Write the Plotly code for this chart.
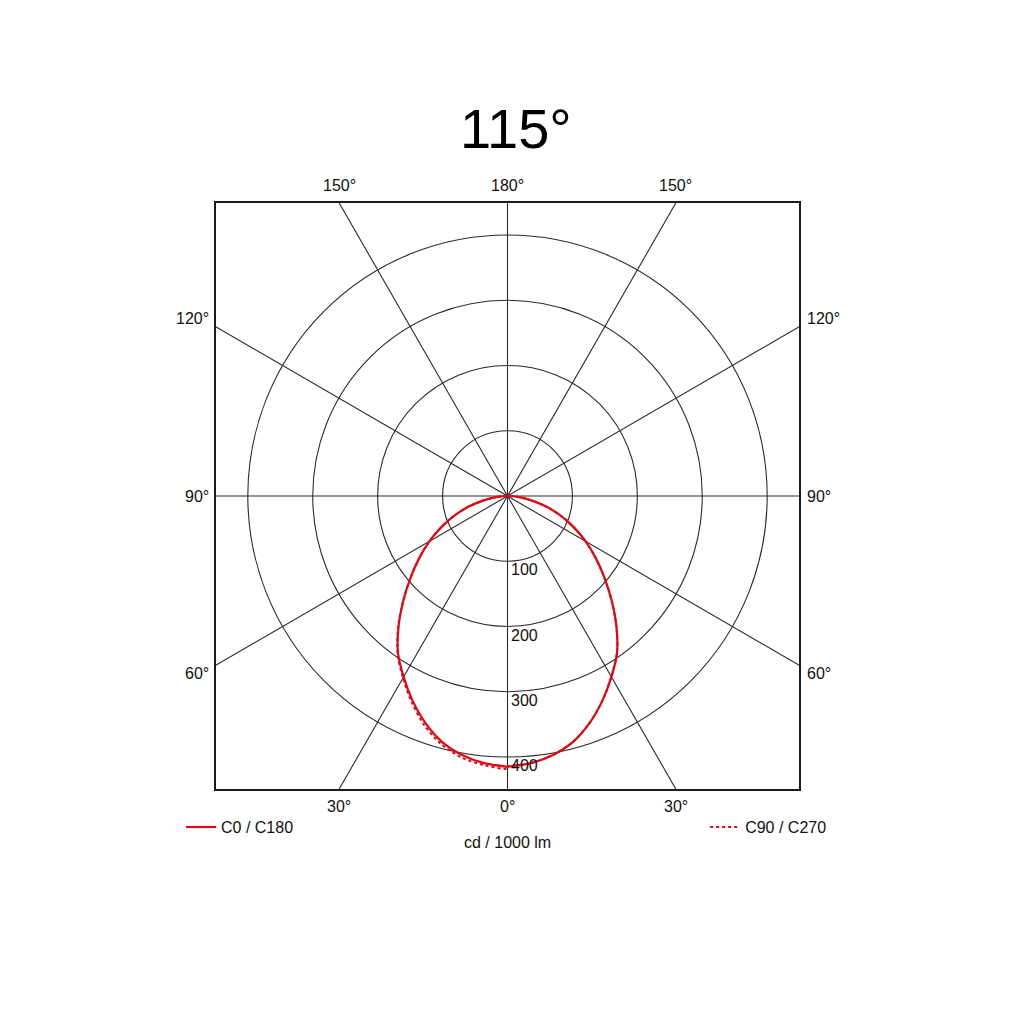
import numpy as np
import plotly.graph_objects as go

# gamma angles (deg from nadir) and luminous intensity, cd / 1000 lm
gamma = [0, 5, 10, 15, 20, 25, 30, 35, 40, 45, 50, 55, 60, 65, 70, 75, 80, 85, 90]
c0_c180 = [415, 411, 403, 390, 370, 346, 320, 294, 261, 227, 195, 166, 139, 112, 86, 61, 36, 16, 0]
c90 = [415, 411, 403, 390, 370, 346, 320, 294, 261, 227, 195, 166, 139, 112, 86, 61, 36, 16, 0]
c270 = [418, 414, 407, 394, 374, 349, 322, 295, 262, 227, 195, 166, 139, 112, 86, 61, 36, 16, 0]

rings = [100, 200, 300, 400]
spoke_angles = [0, 30, 60, 90, 120, 150, 180, 210, 240, 270, 300, 330]
spoke_labels = ["0°", "30°", "60°", "90°", "120°", "150°", "180°", "150°", "120°", "90°", "60°", "30°"]

title_text = "115°"
unit_text = "cd / 1000 lm"
R = 449  # half width of the square frame, in cd

RED = "#e30613"
GRID = "#2a2a2a"
FONT = "Liberation Sans, Arial, sans-serif"
FS = 16


def to_xy(angles, right, left):
    # left half drawn from 90 down to 0, then right half 0 -> 90
    a = np.radians(angles)
    r_r = np.array(right, dtype=float)
    r_l = np.array(left, dtype=float)
    xl = -(r_l * np.sin(a))[::-1]
    yl = -(r_l * np.cos(a))[::-1]
    xr = r_r * np.sin(a)
    yr = -r_r * np.cos(a)
    return np.concatenate([xl, xr]), np.concatenate([yl, yr])


fig = go.Figure()

# spokes every 30 degrees, clipped by the frame
sx, sy = [], []
for a in spoke_angles:
    t = np.radians(a)
    sx += [0, 1000 * np.sin(t), None]
    sy += [0, -1000 * np.cos(t), None]
fig.add_trace(go.Scatter(x=sx, y=sy, mode="lines", line=dict(color=GRID, width=1.1),
                         hoverinfo="skip", showlegend=False))

x1, y1 = to_xy(gamma, c0_c180, c0_c180)
x2, y2 = to_xy(gamma, c90, c270)

fig.add_trace(go.Scatter(x=x2, y=y2, mode="lines", name="C90 / C270",
                         line=dict(color=RED, width=2, dash="dot", shape="spline", smoothing=0.8),
                         legend="legend2"))
fig.add_trace(go.Scatter(x=x1, y=y1, mode="lines", name="C0 / C180",
                         line=dict(color=RED, width=2.2, shape="spline", smoothing=0.8),
                         legend="legend"))

# concentric rings
for r in rings:
    fig.add_shape(type="circle", xref="x", yref="y", x0=-r, y0=-r, x1=r, y1=r,
                  line=dict(color=GRID, width=1.1), layer="below")
    fig.add_annotation(x=0, y=-r, text=str(r), showarrow=False, xanchor="left", yanchor="top",
                       xshift=1, yshift=2, font=dict(size=FS, color="#111", family=FONT))

# angle labels where the spokes meet the frame
for a, lab in zip(spoke_angles, spoke_labels):
    t = np.radians(a)
    dx, dy = np.sin(t), -np.cos(t)
    k = R / max(abs(dx), abs(dy))
    px, py = dx * k, dy * k
    if abs(dx) < abs(dy) + 1e-9:
        # top or bottom edge
        if dy > 0:
            fig.add_annotation(x=px, y=R, text=lab, showarrow=False, yanchor="bottom", yshift=7,
                               font=dict(size=FS, color="#111", family=FONT))
        else:
            fig.add_annotation(x=px, y=-R, text=lab, showarrow=False, yanchor="top", yshift=-7,
                               font=dict(size=FS, color="#111", family=FONT))
    else:
        shift = 0 if abs(py) < 1 else (8 if py > 0 else -8)
        if dx < 0:
            fig.add_annotation(x=-R, y=py, text=lab, showarrow=False, xanchor="right", xshift=-5,
                               yshift=shift, font=dict(size=FS, color="#111", family=FONT))
        else:
            fig.add_annotation(x=R, y=py, text=lab, showarrow=False, xanchor="left", xshift=6,
                               yshift=shift, font=dict(size=FS, color="#111", family=FONT))

fig.add_annotation(x=0.5, y=-0.109, xref="paper", yref="paper", text=unit_text, showarrow=False,
                   font=dict(size=FS, color="#111", family=FONT))

fig.update_layout(
    width=1024, height=1024,
    margin=dict(l=208, r=233, t=195, b=243),
    paper_bgcolor="white", plot_bgcolor="white",
    title=dict(text=title_text, x=0.496, xanchor="center", y=0.882, yanchor="middle",
               font=dict(size=56, color="black", family=FONT)),
    xaxis=dict(range=[-R, R], showgrid=False, zeroline=False, showticklabels=False, ticks="",
               showline=True, mirror=True, linecolor="#1a1a1a", linewidth=1.5, fixedrange=True),
    yaxis=dict(range=[-R, R], showgrid=False, zeroline=False, showticklabels=False, ticks="",
               showline=True, mirror=True, linecolor="#1a1a1a", linewidth=1.5, fixedrange=True),
    legend=dict(x=-0.06, y=-0.065, xanchor="left", yanchor="middle", bgcolor="rgba(0,0,0,0)",
                font=dict(size=FS, color="#111", family=FONT)),
    legend2=dict(x=0.839, y=-0.065, xanchor="left", yanchor="middle", bgcolor="rgba(0,0,0,0)",
                 font=dict(size=FS, color="#111", family=FONT)),
)

fig.write_html("out.html")
